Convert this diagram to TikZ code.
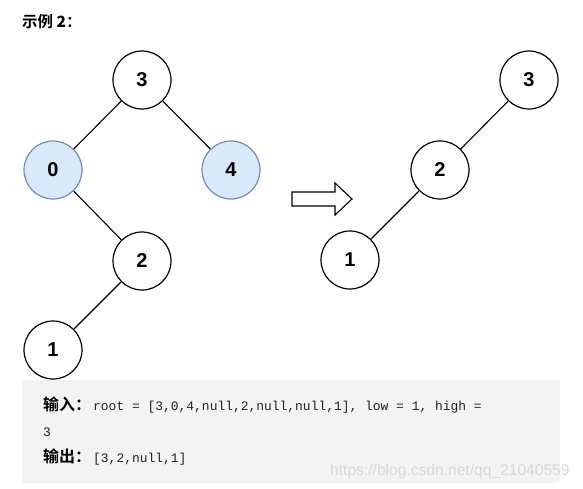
\documentclass[tikz,border=0pt]{standalone}
\usepackage{fontspec}
\setmainfont{Liberation Sans}
\newfontfamily\cjk{Noto Sans CJK SC}
\newfontfamily\cjkb{Noto Sans CJK SC Bold}
\newfontfamily\codefont{Liberation Mono}
\definecolor{nodeblue}{HTML}{DAE8FC}
\definecolor{nodeblueline}{HTML}{6C8EBF}
\definecolor{boxgray}{HTML}{F3F3F3}
\definecolor{wm}{HTML}{D8D8D8}
\definecolor{codetext}{HTML}{222222}
\begin{document}
\begin{tikzpicture}[x=1pt,y=-1pt,
  tnode/.style={circle,draw=black,line width=1.2pt,minimum size=58pt,inner sep=0pt,fill=white,font=\bfseries\fontsize{20}{24}\selectfont},
  bnode/.style={tnode,draw=nodeblueline,fill=nodeblue},
  edge/.style={line width=1.1pt,black},
  lab/.style={anchor=base west,inner sep=0pt,font=\cjkb\fontsize{16}{18}\selectfont},
  codeline/.style={anchor=base west,inner sep=0pt,text=codetext,font=\codefont\fontsize{12.95}{15}\selectfont}]
\useasboundingbox (0,0) rectangle (583,489);
\node[anchor=base west,inner sep=0pt,font=\cjkb\fontsize{15.5}{17}\selectfont] (title) at (22,28) {示例 \textbf{2}：};
% left tree
\node[tnode] (a3) at (142,80) {3};
\node[bnode] (a0) at (53,170) {0};
\node[bnode] (a4) at (231,170) {4};
\node[tnode] (a2) at (142,261) {2};
\node[tnode] (a1) at (53,350) {1};
\draw[edge] (a3) -- (a0);
\draw[edge] (a3) -- (a4);
\draw[edge] (a0) -- (a2);
\draw[edge] (a2) -- (a1);
% right tree
\node[tnode] (b3) at (529,80) {3};
\node[tnode] (b2) at (440,170) {2};
\node[tnode] (b1) at (350,260) {1};
\draw[edge] (b3) -- (b2);
\draw[edge] (b2) -- (b1);
% hollow arrow
\draw[line width=1.1pt,fill=white] (292,192) -- (335,192) -- (335,183) -- (352,199) -- (335,215) -- (335,206) -- (292,206) -- cycle;
% code box
\fill[boxgray,rounded corners=3pt] (22,380) rectangle (560,483);
\node[lab] (l1lab) at (43,410) {输入：};
\node[codeline] (l1) at (93,410) {root = [3,0,4,null,2,null,null,1], low = 1, high =};
\node[codeline] (l2) at (43,436) {3};
\node[lab] (l3lab) at (43,462) {输出：};
\node[codeline] (l3) at (93,462) {[3,2,null,1]};
\node[anchor=base west,inner sep=0pt,text=wm,font=\fontsize{15.6}{17}\selectfont] (wmk) at (330,475) {https://blog.csdn.net/qq\_21040559};
\end{tikzpicture}
\end{document}
